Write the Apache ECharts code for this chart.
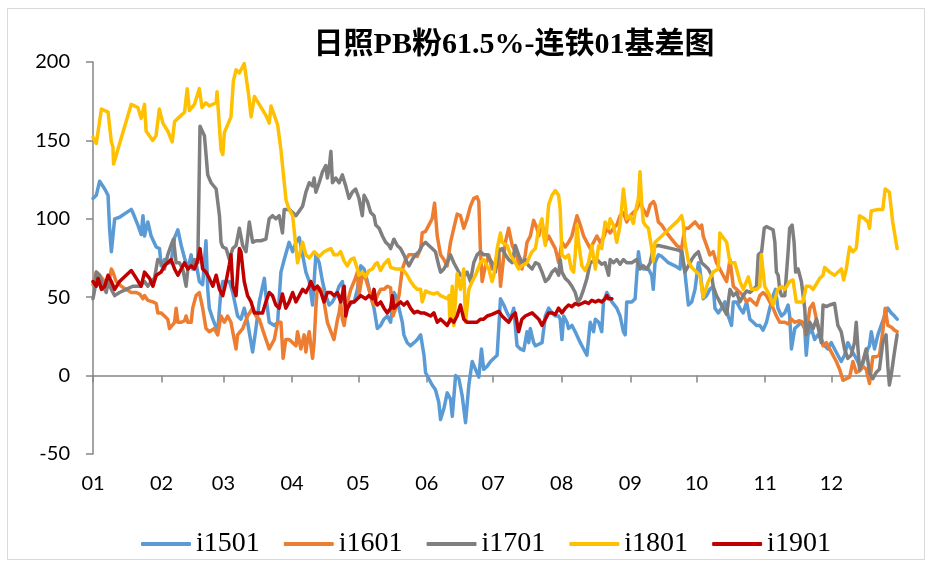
<!DOCTYPE html>
<html>
<head>
<meta charset="utf-8">
<script src="https://cdn.jsdelivr.net/npm/echarts@6/dist/echarts.min.js"></script>
<style>
  html, body { margin: 0; padding: 0; background: #ffffff; }
  #chart { width: 930px; height: 566px; }
</style>
</head>
<body>
<div id="chart"></div>
<script>
// Day-of-year where each month starts, and the month tick labels
const monthStarts = [0, 31, 59, 90, 120, 151, 181, 212, 243, 273, 304, 334];
const monthLabels = ['01', '02', '03', '04', '05', '06', '07', '08', '09', '10', '11', '12'];

// i1501 basis (day of year, value)
const days1501 = [0,1.5,3,3.8,5.3,6.8,7.5,8.3,9,9.8,12,17.3,18,20.3,21.8,22.6,23.3,24.8,26.3,28.6,30.1,30.8,32.3,33.8,35.3,36.9,38.4,39.9,41.4,42.9,44.4,45.1,46.6,48.1,49.6,51.1,51.9,52.6,54.2,56.4,57.9,58.7,60.2,61.7,63.2,65.4,66.9,68.4,69.9,72.2,73.7,75.2,77.5,78.2,79.7,82,83.5,85,86.5,
  88.7,90.3,91.8,93.3,94.8,96.3,97.8,99.3,100.8,102.3,103.8,105.3,106.8,108.3,109.8,111.3,112.8,113.6,115.1,116.6,118.1,119.6,121.1,122.6,124.1,125.6,127.1,128.6,130.1,131.6,133.1,134.6,136.1,136.9,138.4,139.9,140.6,142.1,143.6,145.2,146.7,148.2,149.7,150.4,151.9,153.4,154.9,156.4,157.2,158.7,160.2,161.7,162.5,164,165.5,167,168.5,170,171.5,173,174.5,175.7,176.7,178.3,
  179.8,181.3,182.8,184.3,185.8,187.3,188.8,190.3,191.8,193.3,194.8,195.5,196.3,197.1,197.8,199.3,200.1,201.6,203.1,204.6,206.1,207.6,209.1,210.6,211.3,212.1,212.9,214.4,215.1,216.6,218.1,218.9,220.4,221.9,223.4,224.9,226.4,227.2,228.7,230.1,230.9,232.4,233.2,234.7,236.9,238.4,239.9,240.7,241.4,243.7,245.2,246.7,247.4,248.9,251.2,252.7,253.4,254.2,255.7,257.2,258.7,260.2,263.2,265.5,266.2,267.7,
  269.3,270.8,272.3,273.8,274.5,276,277.5,279,280.5,281.3,282.8,284.3,285.8,287.3,288.8,289.6,291.1,292.6,294.1,295.6,297.1,298.6,300.1,301.6,303.1,304.6,306.1,307.6,308.7,309.8,311.4,312.9,314.4,315.1,315.9,317.4,318.9,320.4,321.9,322.6,323.4,324.9,326.4,327.9,329.4,330.9,332.4,333.9,335.4,336.9,338.4,339.9,341.4,342.9,344.4,345.9,347.4,348.9,350.4,351.2,352,353.5,355,356.5,358,359.5,361,362.5,363.7];
const vals1501 = [113,115,124,124,119,115,94,79,78,100,101,106,104,96,90,102,89,98,89,82,81,70,74,72,72,88,93,83,75,68,77,68,72,60,58,86,55,43,36,28,55,60,60,60,53,38,36,43,34,15,30,47,62,51,34,32,34,66,74,
  85,79,85,88,77,66,60,45,77,72,60,51,45,47,51,57,60,47,43,46,47,55,70,68,60,51,43,30,32,36,38,34,53,51,43,34,26,21,19,21,23,26,13,2,-2,-6,-9,-17,-28,-21,-11,-15,-26,0,-2,-13,-30,-6,9,4,-1,17,4,6,
  9,11,13,49,45,40,36,43,19,17,16,15,28,21,30,21,19,20,21,38,43,40,38,38,36,23,38,34,30,32,28,28,21,17,13,34,28,36,34,28,47,53,54,47,43,38,28,26,47,47,49,79,72,68,68,64,55,72,77,76,74,72,70,68,81,66,
  45,47,55,72,68,49,51,55,57,43,40,43,47,38,32,47,47,43,40,47,36,34,32,32,29,34,43,51,55,43,38,40,45,38,17,30,32,34,30,13,26,30,23,26,23,19,17,21,17,13,9,13,21,17,13,9,4,11,17,19,28,17,26,32,38,43,40,38,36];

// i1601 basis
const days1601 = [0,1.5,3,5.3,6.8,8.3,9,10.5,12.8,15,17.3,19.6,21.1,22.6,23.3,24.8,27.1,28.6,29.3,30.8,32.3,33.8,34.6,35.3,36.9,37.6,38.4,39.9,41.4,42.1,42.9,44.4,45.1,46.6,48.1,49.6,51.1,52.6,54.9,56.4,57.9,59.4,60.9,62.4,63.2,64.7,65.4,67.7,69.9,72.2,73.7,75.2,77.5,79.7,82,83.5,85,86,87.2,
  88.7,90.3,91.8,92.5,94,95.5,96.3,97,97.8,99.3,100,100.8,101.5,103.1,104.5,106,107.6,109,110.6,111.3,112,112.8,113.6,115.1,116.6,118.1,119.6,120.3,121.8,123.3,124.8,126.4,127.1,128.6,130.1,131.6,133.1,134.6,135.7,136.9,138.4,139.9,141.4,142.9,145.2,146.7,148.2,148.9,150.4,151.9,153.4,154.5,155.7,157.2,158.7,160.2,161.7,163.2,164.7,166.2,167.7,169.2,170.7,172.2,173.7,174.5,175.2,176,177.5,
  179,180.5,182,183.5,184.3,186.5,188,188.8,189.6,191,192.5,194,195.5,196.3,197.8,199.3,200.8,201.6,203.1,204.6,206.1,207.6,209.1,209.8,210.6,212.1,213.6,215.1,216.6,218.9,220.4,221.9,223.4,224.9,226.4,227.9,229.4,230.9,232.4,233.9,235.4,236.9,238.4,239.9,241.4,242.9,244.4,245.9,247.4,248.9,250.5,252,253.5,254.2,255.7,257.2,259.5,261.7,264,266.2,267.7,
  269.3,270.8,272.3,273,274.5,275.3,276,277.5,279,280.5,282,283.5,285,286.6,288.1,289.6,291.1,292.6,294.1,295.6,297.1,298.6,300.1,301.6,303.1,304.6,306.1,307.6,309.1,310.6,312.9,314.4,315.9,317.4,319.6,321.1,322.6,324.2,325.7,327.2,328.7,330.2,331.7,333.2,334.7,336.2,337.7,339.2,340.7,342.2,343.7,345.2,346.7,348.2,349.7,351.2,352.7,354.2,355.7,357.2,358.3,359.5,361,362.5,363.7];
const vals1601 = [58,66,64,60,57,68,66,60,57,55,53,53,52,49,51,48,47,46,40,40,38,36,30,29,34,43,34,34,35,38,34,34,43,51,53,43,30,28,30,26,38,34,38,34,28,17,26,30,38,43,38,36,26,17,23,34,34,11,23,
  23,21,19,28,17,26,15,23,28,11,21,43,57,55,47,34,28,23,36,40,47,36,32,47,55,60,66,51,64,62,55,47,45,51,55,55,57,56,38,43,51,68,74,77,77,76,81,91,92,96,100,110,89,77,74,70,85,94,103,102,94,100,108,113,114,111,81,60,70,
  77,68,72,81,57,85,94,95,83,79,72,68,77,85,89,99,94,89,98,85,89,85,81,77,72,85,82,85,89,102,96,89,85,81,85,89,85,88,94,91,94,96,102,104,98,102,104,106,111,106,102,109,111,109,98,96,91,87,83,81,94,
  94,96,98,99,94,96,89,83,77,79,72,68,64,60,74,57,55,53,51,47,49,47,45,51,53,51,47,43,38,34,34,33,36,34,35,34,26,43,46,36,28,19,21,17,13,9,4,-3,-2,-1,9,2,3,6,4,-5,12,12,13,28,43,32,31,29,28];

// i1701 basis
const days1701 = [0,0.8,1.5,3,4.5,6,6.8,8.3,9.8,12,15,18,21.1,23.3,24.8,26.3,27.8,29.3,30.8,32.3,33.8,35.3,36.4,37.6,39.1,40.6,42.1,42.9,44.4,45.9,47.4,48.4,50.4,51.9,53.4,55.7,57.2,57.9,58.7,60.2,61.7,63.2,64.7,66.2,67.7,69.2,70.7,72.2,73.7,76,78.2,79.7,81.2,82.7,84.2,85.7,86.5,
  88.7,90.3,91.8,93.3,94.8,96.3,97.8,99.3,100,100.8,102.3,103.8,105.3,106,106.8,107.6,108.3,109.8,111.3,112.8,114.3,115.8,117.3,118.8,120.3,121.8,122.6,124.1,125.6,127.1,127.9,129.4,130.9,132.4,133.9,134.6,136.1,137.6,139.1,140.6,142.1,142.9,144.4,145.9,147.4,148.9,150.4,151.9,153.4,154.9,156.4,157.2,158.7,160.2,161.7,163.2,164.7,166.2,167.7,169.2,170.7,172.2,173.7,175.2,176.7,178.3,
  180.5,182,183.5,185,186.5,188,189.6,191,192.5,194,195.5,197.1,198.6,200.1,201.6,203.1,204.6,206.1,207.6,209.1,210.6,211.3,212.1,213.6,215.1,216.6,218.1,219.3,220.4,221.9,223.4,224.9,226.4,227.9,230.1,231.6,233.2,233.9,235.4,236.9,238.4,239.9,241.4,243.7,245.9,247.4,248.9,250.5,252,253.5,255.7,258.7,261.7,264.7,266.2,267.7,
  269.3,270.8,272.3,273.8,275.3,276.8,278.3,279.8,280.5,282,283.5,285,286.6,288.1,289.6,291.1,292.6,294.1,295.6,297.1,298.6,300.1,300.9,302.4,303.6,304.6,306.1,307.6,308.4,309.1,309.9,310.6,311.4,312.9,314.4,315.1,316.2,317.1,317.8,318.9,320.4,321.9,322.6,324.2,325.7,327.2,328.7,329.4,330.2,331.7,333.2,335.4,336.9,338.4,339.9,341.4,342.9,344.4,345.2,345.9,346.7,348.2,349.7,351.2,352.7,354.2,355.7,357.2,358.7,359.5,360.2,361,362.5,363.7];
const vals1701 = [49,55,66,64,57,53,60,55,51,53,55,57,57,60,57,60,62,74,72,68,77,83,87,72,72,68,57,68,70,74,72,159,153,128,123,119,102,85,82,81,74,81,83,94,83,79,98,85,86,86,87,100,102,100,102,91,106,
  106,104,102,105,108,117,123,121,126,117,123,130,134,126,132,143,123,126,123,128,121,113,117,119,113,102,115,111,104,102,96,94,89,85,83,81,87,83,81,77,72,70,74,77,79,83,85,83,81,79,70,66,68,72,77,72,68,64,63,66,60,72,77,79,77,77,
  72,66,79,81,77,74,72,83,77,72,74,70,68,72,71,66,60,62,66,68,64,74,66,62,60,57,53,47,49,55,62,72,73,74,71,72,64,74,72,74,71,74,72,72,74,68,70,68,72,82,83,82,81,80,79,66,
  70,74,77,79,72,70,68,64,57,51,47,43,39,55,51,53,47,51,54,53,55,57,77,79,94,95,94,93,85,66,64,55,51,51,79,94,96,85,66,68,60,43,26,34,30,36,26,21,45,44,45,46,32,28,17,11,13,21,34,19,4,9,17,2,-2,2,4,21,26,6,-6,0,15,26];

// i1801 basis
const days1801 = [0,1.5,3.8,6.8,8.3,9,9.3,17.3,20.3,21.8,23.3,24,27,28.5,30,31.6,33.8,35.8,36.9,39.1,41.4,42.6,43.6,45.9,48.1,49.3,51,52.6,55.7,56.1,57.9,58.7,59.4,62.4,63.5,64.7,66.2,68.4,69.2,70.4,71.5,73,75.2,78.2,79.7,80.5,83.5,85,87.3,
  88.7,90.3,92.5,93.3,94.8,96.3,97.8,100,102.3,104.5,106,107.6,109,110.6,112,113.6,115,116.6,118,119.6,120.3,121.8,123.3,124.8,126.4,127.6,128.6,130.1,131.6,133.6,134.6,136.9,139.1,140.6,142.1,143.7,145.2,146.7,148.2,148.9,150.4,151.9,154.2,155.7,157.2,158.7,160.2,161,161.4,162.5,163.2,164.7,166.2,167.7,168.5,170,171.5,173,175.2,176.7,
  179,180.5,181.3,182.8,184.3,185,185.8,187.3,188.8,191,192.5,194,196.3,197.8,198.6,200.1,201.6,203.1,203.8,204.6,206.1,207.6,209.1,210.6,211.3,212.1,213.6,215.1,216.3,217.4,218.1,218.9,219.6,221.1,222.6,224.1,225.6,227.2,228.7,230.1,231.6,233.2,233.9,235.4,236.9,238.4,239.9,240.7,241.4,242.9,244.4,245.2,246.7,247.4,248.2,248.9,249.7,251.2,252.7,253.4,254.2,255.7,258.7,261.7,264.7,266.2,266.9,267.7,
  269.3,270.8,273,274.5,276,278.3,280.5,282.8,283.5,286.6,288.1,290.3,292.6,294.1,296.4,297.8,300.1,301.6,302.3,303.8,306.1,307.6,309.8,311.4,312.9,315.1,316.6,318.1,321.1,322.6,324.2,325.7,328.7,330.2,330.9,333.2,335.4,338.5,339.5,340.7,342.2,343.7,345.2,346.7,349,350.5,351.2,352,355,357.2,358.3,360.2,361.7,363.7];
const vals1801 = [152,148,170,168,149,146,135,173,171,164,173,156,150,153,170,161,156,149,162,165,168,183,169,173,183,171,174,172,174,181,144,141,155,165,188,195,193,199,200,179,165,178,173,166,161,172,160,144,112,
  106,102,72,72,85,77,75,79,76,79,80,81,77,77,79,73,70,74,75,68,64,66,63,67,68,71,72,67,71,74,69,68,68,67,64,60,57,55,55,47,54,53,52,53,51,50,49,51,34,57,32,65,55,68,34,55,60,64,72,74,
  68,60,64,81,91,85,86,83,77,72,68,70,72,77,79,81,94,100,89,83,109,115,118,115,106,77,75,77,68,66,77,96,85,70,67,72,83,68,83,81,98,94,100,96,85,96,119,109,100,102,97,104,113,130,109,98,96,94,81,73,85,87,91,95,99,102,98,85,
  73,69,66,64,50,60,66,68,91,85,72,72,60,55,63,55,55,57,77,57,51,45,55,57,55,60,61,47,47,57,57,55,62,64,69,66,64,68,61,68,82,79,81,102,100,98,94,105,106,106,119,117,98,81];

// i1901 basis (contract still trading, series ends in August)
const days1901 = [0,1.5,2.3,3.8,5.3,6.8,8.3,9.8,12,15,17.3,19.6,21.8,23.3,25.6,27.1,28.6,30.8,32.3,33.8,35.3,36.9,38.4,39.9,41.4,42.9,44.4,45.9,47.4,48.4,49.6,51.1,52.6,54.2,55.7,57.2,58.7,60.2,61.7,62.4,63.2,64.7,66.2,66.9,68.4,69.9,71.5,73,74.5,76.7,78.2,79.7,81.2,82.7,84.2,85.7,87.2,
  88.7,90.3,91.8,93.3,94.8,96.3,97.8,98.5,100,101.5,103.1,104.5,106,107.6,109,110.6,112,113.6,114.3,115.1,116.6,118.1,119.6,121.1,123.3,124.8,126.4,127.1,127.9,128.6,130.1,131.6,133.1,134.6,135.4,136.1,137.6,139.1,140.6,142.1,143.6,145.2,146.7,148.2,149.7,151.2,152.7,154.2,155.7,157.2,158.7,160.2,161.7,163.2,164.7,166.2,167.7,169.2,170.7,172.2,173.7,175.2,176.7,178.3,
  180.5,182,183.5,185,186.5,188,189.6,191,192.5,194,195.5,197.1,198.6,200.1,201.6,203.1,204.6,206.1,207.6,209.1,210.6,212.1,213.6,215.1,216.6,218.1,219.6,221.1,222.6,224.1,225.6,227.2,228.7,230.1,231.6,232.4,233.2,234.7];
const vals1901 = [60,57,62,55,57,64,60,55,60,64,67,62,57,66,62,57,64,66,70,72,74,68,64,68,72,68,70,68,74,81,68,66,62,57,64,55,51,60,71,77,57,51,81,79,60,51,47,40,40,40,47,53,51,45,43,52,43,
  47,53,47,51,55,53,57,60,55,57,53,47,53,53,51,53,47,57,38,43,47,47,49,51,49,51,49,55,47,45,47,43,40,43,51,43,45,47,45,47,43,40,41,40,40,39,38,40,34,36,34,32,36,34,38,45,36,34,34,34,34,36,36,38,
  39,40,41,38,36,34,38,40,28,36,38,39,40,38,36,32,36,40,40,39,43,40,43,45,44,46,45,46,47,46,48,47,48,47,49,51,49,49];

const seriesDefs = [
  { name: 'i1501', days: days1501, vals: vals1501, color: '#5B9BD5' },
  { name: 'i1601', days: days1601, vals: vals1601, color: '#ED7D31' },
  { name: 'i1701', days: days1701, vals: vals1701, color: '#7F7F7F' },
  { name: 'i1801', days: days1801, vals: vals1801, color: '#FFC000' },
  { name: 'i1901', days: days1901, vals: vals1901, color: '#C00000' }
];

const axisGray = '#868686';
const labelFont = 'Lato, "Liberation Sans", sans-serif';
const serifFont = '"Liberation Serif", "Noto Sans CJK SC", serif';

const chart = echarts.init(document.getElementById('chart'), null, { renderer: 'canvas' });

chart.setOption({
  animation: false,
  backgroundColor: '#ffffff',
  // chart-area frame
  graphic: [{
    type: 'rect', silent: true, z: -10,
    shape: { x: 7.5, y: 8.5, width: 917, height: 551 },
    style: { fill: 'none', stroke: '#D9D9D9', lineWidth: 1 }
  }],
  title: {
    text: '日照PB粉61.5%-连铁01基差图',
    left: 509,
    top: 25,
    textAlign: 'center',
    textStyle: { fontFamily: serifFont, fontSize: 30, fontWeight: 'bold', color: '#000000' }
  },
  legend: {
    left: 136,
    top: 525,
    itemWidth: 50,
    itemHeight: 4,
    itemGap: 24,
    icon: 'roundRect',
    textStyle: { fontFamily: serifFont, fontSize: 28, color: '#000000' },
    data: seriesDefs.map(s => s.name)
  },
  grid: { left: 93, right: 30, top: 62, bottom: 112, containLabel: false },
  xAxis: [
    {
      type: 'value', min: 0, max: 365,
      axisLine: { show: true, onZero: true, lineStyle: { color: axisGray, width: 1.5 } },
      axisTick: { show: true, customValues: monthStarts, length: 7, inside: false, lineStyle: { color: axisGray, width: 1.5 } },
      axisLabel: { show: false },
      splitLine: { show: false }
    },
    {
      type: 'value', min: 0, max: 365, position: 'bottom',
      axisLine: { show: false, onZero: false },
      axisTick: { show: false },
      axisLabel: {
        show: true, customValues: monthStarts, margin: 20,
        fontFamily: labelFont, fontSize: 20, color: '#000000',
        formatter: v => monthLabels[monthStarts.indexOf(v)]
      },
      splitLine: { show: false }
    }
  ],
  yAxis: {
    type: 'value', min: -50, max: 200, interval: 50,
    axisLine: { show: true, lineStyle: { color: axisGray, width: 1.5 } },
    axisTick: { show: true, length: 7, inside: false, lineStyle: { color: axisGray, width: 1.5 } },
    axisLabel: { margin: 23, fontFamily: labelFont, fontSize: 20, color: '#000000' },
    splitLine: { show: false }
  },
  series: seriesDefs.map(s => ({
    name: s.name,
    type: 'line',
    xAxisIndex: 0,
    symbol: 'none',
    data: s.days.map((d, i) => [d, s.vals[i]]),
    itemStyle: { color: s.color },
    lineStyle: { color: s.color, width: 3.5, cap: 'round', join: 'round' }
  }))
});
</script>
</body>
</html>
